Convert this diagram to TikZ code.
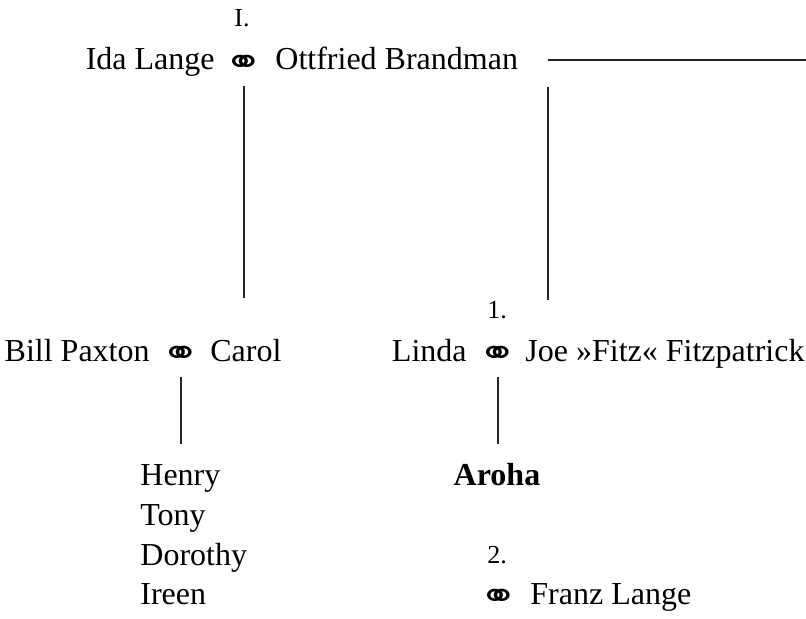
\documentclass[tikz,border=0pt]{standalone}
\usepackage{fontspec}
\setmainfont{Liberation Serif}
\newfontfamily\ringfont{DejaVu Sans}
\newcommand{\wed}{\raisebox{-2.3pt}{\scalebox{1.28}[1]{\ringfont\fontsize{18}{18}\selectfont ⚭}}}
\begin{document}
\begin{tikzpicture}[x=0.5pt,y=-0.5pt,
  every node/.style={inner sep=0pt,font=\fontsize{16}{20}\selectfont},
  nr/.style={font=\fontsize{13}{15}\selectfont},
  line/.style={line width=1pt,draw=black!85}]
\useasboundingbox (0,0) rectangle (806,619);
% first couple
\node(m1)[anchor=base] at (244,70) {\wed};
\node(ida)[anchor=base east] at (215,70) {Ida Lange};
\node(ottfried)[anchor=base west] at (275,70) {Ottfried Brandman};
\node(roman)[anchor=base,nr] at (242,27) {I.};
\coordinate(fork) at (548,60);
\coordinate(edge) at (806,60);
% second row
\node(m2)[anchor=base] at (181,361) {\wed};
\node(bill)[anchor=base east] at (150,361) {Bill Paxton};
\node(carol)[anchor=base west] at (210,361) {Carol};
\node(m3)[anchor=base] at (498,361) {\wed};
\node(linda)[anchor=base east] at (467,361) {Linda};
\node(joe)[anchor=base west] at (525,361) {Joe »Fitz« Fitzpatrick};
\node(first)[anchor=base,nr] at (497,319) {1.};
% children
\node(henry)[anchor=base west] at (140,485) {Henry};
\node(tony)[anchor=base west] at (140,525) {Tony};
\node(dorothy)[anchor=base west] at (140,565) {Dorothy};
\node(ireen)[anchor=base west] at (140,604) {Ireen};
\node(aroha)[anchor=base] at (497,485) {\textbf{Aroha}};
\node(second)[anchor=base,nr] at (497,563) {2.};
\node(m4)[anchor=base] at (499,604) {\wed};
\node(franz)[anchor=base west] at (530,604) {Franz Lange};

\draw[line,shorten <=8pt,shorten >=31.5pt] (m1.base) -- (m1.base |- carol.base);
\draw[line] (fork) -- (edge);
\draw[line,shorten <=13.5pt,shorten >=30.5pt] (fork) -- (fork |- joe.base);
\draw[line,shorten <=8pt,shorten >=20.5pt] (m2.base) -- (m2.base |- henry.base);
\draw[line,shorten <=8pt,shorten >=20.5pt] (m3.base) -- (m3.base |- aroha.base);
\end{tikzpicture}
\end{document}
